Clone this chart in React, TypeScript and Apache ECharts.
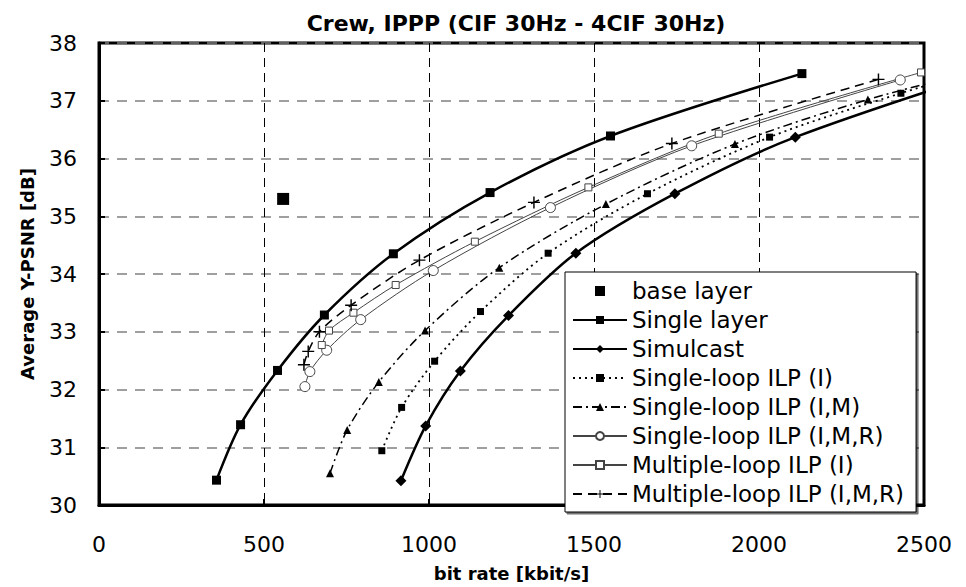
import React, { useEffect, useRef } from "react";
import * as echarts from "echarts";

const FONT = "'DejaVu Sans', 'Liberation Sans', Arial, sans-serif";

const titleText = "Crew, IPPP (CIF 30Hz - 4CIF 30Hz)";
const xAxisName = "bit rate [kbit/s]";
const yAxisName = "Average Y-PSNR [dB]";

const baseLayerX = [558];
const baseLayerY = [35.3];

const singleLayerX = [356, 429, 541, 683, 892, 1185, 1550, 2130];
const singleLayerY = [30.43, 31.39, 32.33, 33.29, 34.35, 35.41, 36.39, 37.47];

const simulcastX = [915, 990, 1095, 1241, 1445, 1745, 2110, 2830];
const simulcastY = [30.42, 31.37, 32.32, 33.28, 34.36, 35.39, 36.37, 37.75];

const slIX = [857, 917, 1017, 1156, 1361, 1662, 2032, 2430, 2800];
const slIY = [30.94, 31.69, 32.49, 33.35, 34.36, 35.39, 36.37, 37.13, 37.75];

const slIMX = [700, 752, 848, 988, 1213, 1536, 1927, 2330, 2750];
const slIMY = [30.55, 31.3, 32.13, 33.02, 34.11, 35.21, 36.25, 37.02, 37.65];

const slIMRX = [624, 639, 690, 793, 1013, 1368, 1796, 2428];
const slIMRY = [32.05, 32.31, 32.68, 33.21, 34.06, 35.15, 36.22, 37.36];

const mlIX = [675, 697, 771, 899, 1139, 1483, 1878, 2491];
const mlIY = [32.77, 33.02, 33.33, 33.81, 34.56, 35.5, 36.43, 37.49];

const mlIMRX = [621, 634, 668, 764, 971, 1318, 1736, 2362];
const mlIMRY = [32.43, 32.66, 33.0, 33.46, 34.24, 35.24, 36.26, 37.37];

const xTicks = { min: 0, max: 2500, interval: 500 };
const yTicks = { min: 30, max: 38, interval: 1 };

const pairs = (xs: number[], ys: number[]) => xs.map((x, i) => [x, ys[i]]);

const PLUS = "path://M4.4,0H5.6V4.4H10V5.6H5.6V10H4.4V5.6H0V4.4H4.4Z";
const SQUARE = "path://M0,0H10V10H0Z";

export default function App() {
  const ref = useRef<HTMLDivElement>(null);
  useEffect(() => {
    if (!ref.current) return;
    const chart = echarts.init(ref.current, undefined, { renderer: "svg" });
    const line = (
      name: string,
      xs: number[],
      ys: number[],
      lineStyle: any,
      symbol: string,
      symbolSize: number,
      itemStyle: any
    ) => ({
      name,
      type: "line",
      data: pairs(xs, ys),
      smooth: 0.3,
      clip: true,
      symbol,
      symbolSize,
      showAllSymbol: true,
      lineStyle,
      itemStyle,
      emphasis: { disabled: true },
    });
    chart.setOption({
      animation: false,
      backgroundColor: "#fff",
      title: {
        text: titleText,
        left: 511,
        textAlign: "center",
        top: 7,
        textStyle: { fontFamily: FONT, fontSize: 22, fontWeight: "bold", color: "#000" },
      },
      grid: {
        left: 99,
        right: 42,
        top: 43,
        bottom: 75,
        show: true,
        borderColor: "#000",
        borderWidth: 3,
      },
      legend: {
        orient: "vertical",
        left: 565,
        top: 272,
        padding: [7, 12, 6, 7],
        backgroundColor: "#fff",
        borderColor: "#000",
        borderWidth: 1,
        shadowColor: "rgba(0,0,0,0.55)",
        shadowOffsetX: 2,
        shadowOffsetY: 2,
        shadowBlur: 0,
        itemWidth: 54,
        itemHeight: 10,
        itemGap: 5,
        symbolKeepAspect: true,
        textStyle: { fontFamily: FONT, fontSize: 23, color: "#000", lineHeight: 24 },
        data: [
          { name: "base layer", icon: SQUARE },
          "Single layer",
          "Simulcast",
          "Single-loop ILP (I)",
          "Single-loop ILP (I,M)",
          "Single-loop ILP (I,M,R)",
          "Multiple-loop ILP (I)",
          "Multiple-loop ILP (I,M,R)",
        ],
      },
      xAxis: {
        type: "value",
        min: xTicks.min,
        max: xTicks.max,
        interval: xTicks.interval,
        name: xAxisName,
        nameLocation: "middle",
        nameGap: 59,
        nameTextStyle: { fontFamily: FONT, fontSize: 18, fontWeight: "bold", color: "#000" },
        axisLine: { lineStyle: { color: "#000", width: 3 } },
        axisTick: { inside: true, length: 6, lineStyle: { color: "#000", width: 2 } },
        axisLabel: {
          fontFamily: FONT,
          fontSize: 22,
          color: "#000",
          margin: 28,
          formatter: (v: number) => String(v),
        },
        splitLine: { show: true, lineStyle: { color: "#000", type: [9, 6], width: 1 } },
      },
      yAxis: {
        type: "value",
        min: yTicks.min,
        max: yTicks.max,
        interval: yTicks.interval,
        name: yAxisName,
        nameLocation: "middle",
        nameGap: 63,
        nameTextStyle: { fontFamily: FONT, fontSize: 18, fontWeight: "bold", color: "#000" },
        axisLine: { lineStyle: { color: "#000", width: 3 } },
        axisTick: { inside: true, length: 6, lineStyle: { color: "#000", width: 2 } },
        axisLabel: {
          fontFamily: FONT,
          fontSize: 22,
          color: "#000",
          margin: 22,
          formatter: (v: number) => String(v),
        },
        splitLine: { show: true, lineStyle: { color: "#808080", type: [10, 8], width: 1.5 } },
      },
      series: [
        {
          name: "base layer",
          type: "scatter",
          data: pairs(baseLayerX, baseLayerY),
          symbol: "rect",
          symbolSize: 12,
          itemStyle: { color: "#000", opacity: 1 },
          emphasis: { disabled: true },
        },
        line("Single layer", singleLayerX, singleLayerY, { color: "#000", width: 2.5 }, "rect", 9, { color: "#000" }),
        line("Simulcast", simulcastX, simulcastY, { color: "#000", width: 2.5 }, "diamond", 11, { color: "#000" }),
        line("Single-loop ILP (I)", slIX, slIY, { color: "#000", width: 1.8, type: [2, 4] }, "rect", 7, { color: "#000" }),
        line("Single-loop ILP (I,M)", slIMX, slIMY, { color: "#000", width: 1.5, type: [9, 4, 2, 4] }, "triangle", 8, { color: "#000" }),
        line("Single-loop ILP (I,M,R)", slIMRX, slIMRY, { color: "#444", width: 1 }, "circle", 10, { color: "#fff", borderColor: "#444", borderWidth: 1 }),
        line("Multiple-loop ILP (I)", mlIX, mlIY, { color: "#444", width: 1 }, "rect", 7, { color: "#fff", borderColor: "#444", borderWidth: 1 }),
        line("Multiple-loop ILP (I,M,R)", mlIMRX, mlIMRY, { color: "#000", width: 1.5, type: [9, 6] }, PLUS, 12, { color: "#000" }),
      ],
    });
    return () => chart.dispose();
  }, []);
  return (
    <div
      ref={ref}
      style={{ position: "absolute", left: 0, top: 0, width: 966, height: 587, background: "#fff" }}
    />
  );
}
